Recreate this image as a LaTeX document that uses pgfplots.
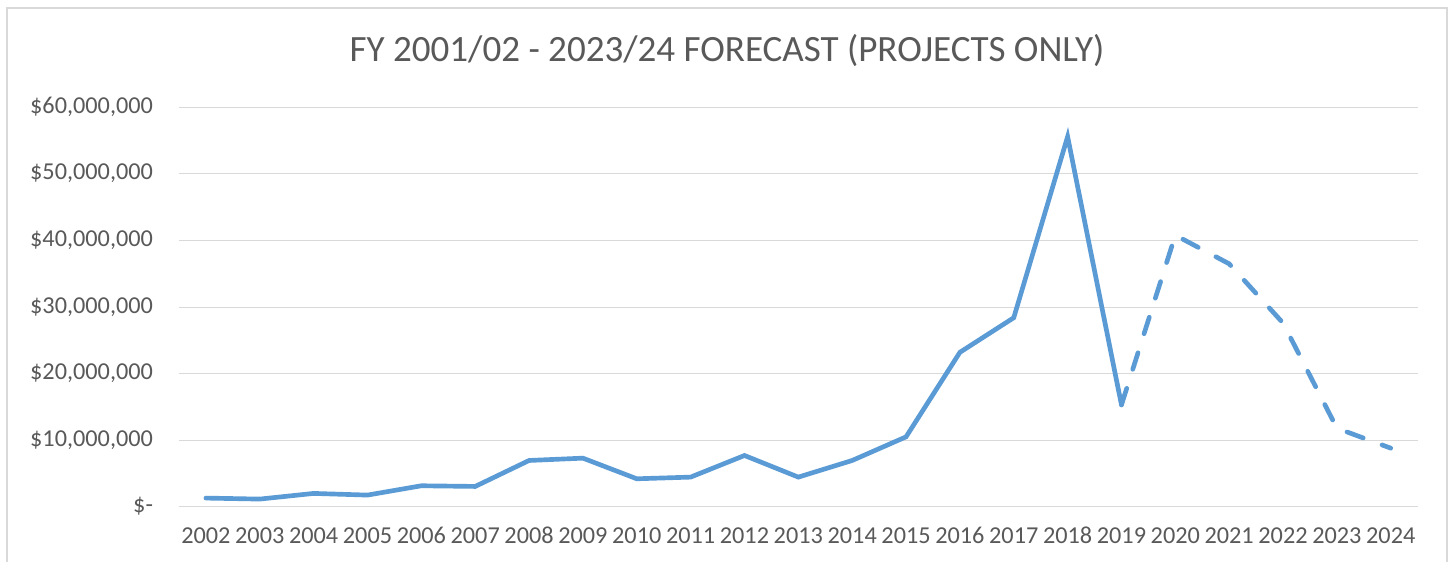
\documentclass[border=0pt]{standalone}
\usepackage{pgfplots}
\pgfplotsset{compat=1.18}
\usepackage{fontspec}
\setmainfont{Carlito}
\definecolor{serie}{HTML}{5B9BD5}
\definecolor{txt}{HTML}{595959}
\definecolor{gridc}{HTML}{D9D9D9}
\begin{document}
\begin{tikzpicture}[x=0.75pt,y=0.75pt]
\useasboundingbox (0,0) rectangle (1450,561);
\fill[white] (0,0) rectangle (1450,561);
\draw[gridc, line width=1.1pt] (7,-20) rectangle (1447,553);
\node[txt, font=\fontsize{27.8}{32}\selectfont] at (727,510) {FY 2001/02 - 2023/24 FORECAST (PROJECTS ONLY)};
\begin{axis}[
  at={(134.25pt,40.7pt)}, anchor=south west,
  scale only axis, width=929pt, height=299.5pt,
  xmin=-0.5, xmax=22.5, ymin=0, ymax=60000000,
  axis line style={draw=none},
  major tick length=0pt,
  xtick={0,...,22},
  xticklabels={2002,2003,2004,2005,2006,2007,2008,2009,2010,2011,2012,2013,2014,2015,2016,2017,2018,2019,2020,2021,2022,2023,2024},
  ytick={0,10000000,20000000,30000000,40000000,50000000,60000000},
  yticklabels={{\$-},{\$10,000,000},{\$20,000,000},{\$30,000,000},{\$40,000,000},{\$50,000,000},{\$60,000,000}},
  scaled y ticks=false,
  ymajorgrids,
  grid style={gridc, line width=0.8pt},
  tick label style={txt, font=\fontsize{18.2}{21}\selectfont, text height=12pt, text depth=3pt},
  yticklabel style={xshift=-16pt},
  xticklabel style={yshift=-12pt},
  clip=false,
]
\addplot[serie, line width=3.5pt, line join=miter, line cap=round] coordinates {
(0,1300000)(1,1150000)(2,2000000)(3,1750000)(4,3150000)(5,3050000)(6,6950000)(7,7300000)(8,4200000)(9,4450000)(10,7700000)(11,4450000)(12,6950000)(13,10500000)(14,23200000)(15,28400000)(16,55600000)(17,15300000)
};
\addplot[serie, line width=3.5pt, line join=round, line cap=round, dash pattern=on 13pt off 15pt] coordinates {
(17,15300000)(18,40800000)(19,36500000)(20,27600000)(21,11800000)(22,8800000)
};
\end{axis}
\end{tikzpicture}
\end{document}
